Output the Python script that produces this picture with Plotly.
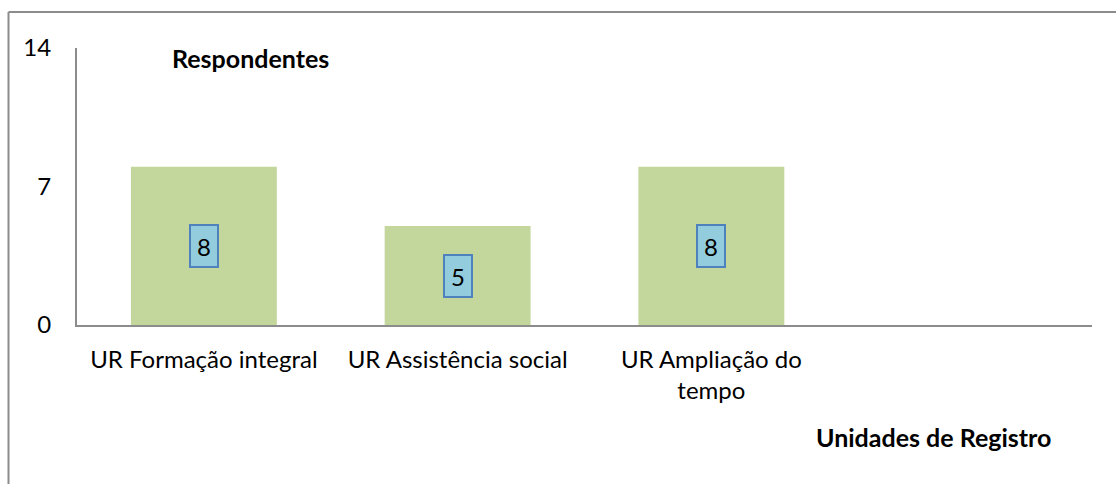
import plotly.graph_objects as go

categories = ["UR Formação integral", "UR Assistência social", "UR Ampliação do<br>tempo"]
values = [8, 5, 8]
y_ticks = [0, 7, 14]

FONT = "Lato"
FS = 24
x_pos = list(range(len(categories)))

L, R, T, B = 77, 1092, 48, 325
W, H = 1116, 484
pw, ph = R - L, B - T

fig = go.Figure()
fig.add_trace(go.Bar(
    x=x_pos, y=values, width=0.575,
    marker=dict(color="#C3D69B", line=dict(width=0)),
    hoverinfo="skip", showlegend=False,
))

for xi, v in zip(x_pos, values):
    fig.add_annotation(
        x=xi, y=v / 2, xref="x", yref="y", text=str(v), showarrow=False,
        font=dict(family=FONT, size=FS, color="#000000"),
        bgcolor="#93CDDD", bordercolor="#4F81BD", borderwidth=2,
        borderpad=2, width=22, height=36,
    )

fig.add_annotation(x=(170 - L) / pw, y=(B - 58) / ph, xref="paper", yref="paper",
                   xanchor="left", yanchor="middle",
                   text="<b>Respondentes</b>", showarrow=False,
                   font=dict(family=FONT, size=25, color="#000000"))
fig.add_annotation(x=(1053 - L) / pw, y=-(437 - B) / ph, xref="paper", yref="paper",
                   xanchor="right", yanchor="middle",
                   text="<b>Unidades de Registro</b>", showarrow=False,
                   font=dict(family=FONT, size=25, color="#000000"))

# outer chart frame (top and left edges visible)
fy = (B - 12) / ph
fx = (8.5 - L) / pw
fig.add_shape(type="line", xref="paper", yref="paper",
              x0=fx, x1=(1130 - L) / pw, y0=fy, y1=fy,
              line=dict(color="#8C8C8C", width=2))
fig.add_shape(type="line", xref="paper", yref="paper",
              x0=fx, x1=fx, y0=fy, y1=(B - 500) / ph,
              line=dict(color="#8C8C8C", width=2))

fig.update_layout(
    width=W, height=H,
    margin=dict(l=L, r=W - R, t=T, b=H - B),
    paper_bgcolor="white", plot_bgcolor="white",
    font=dict(family=FONT, size=FS, color="#000000"),
    xaxis=dict(
        range=[-0.5, 3.5], tickvals=x_pos, ticktext=categories,
        showgrid=False, zeroline=False, showline=True, linecolor="#8C8C8C", linewidth=2,
        ticks="", ticklabelstandoff=12, tickangle=0,
        tickfont=dict(family=FONT, size=FS, color="#000000"),
    ),
    yaxis=dict(
        range=[0, 14], tickvals=y_ticks,
        showgrid=False, zeroline=False, showline=True, linecolor="#8C8C8C", linewidth=2,
        ticks="", ticklabelstandoff=19,
        tickfont=dict(family=FONT, size=FS, color="#000000"),
    ),
)

fig.write_html("out.html", config={"displayModeBar": False},
               post_script="document.body.style.margin='0';")
